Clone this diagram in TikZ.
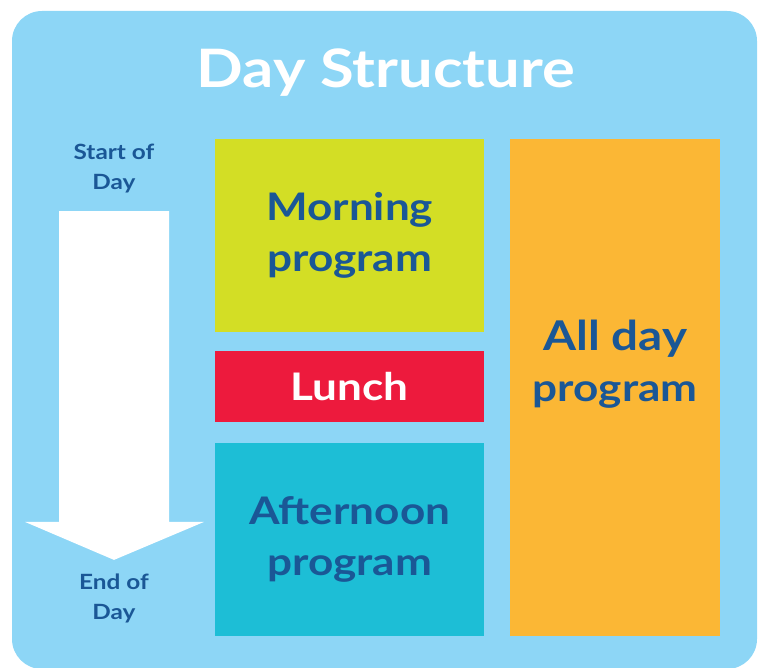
\documentclass[tikz,border=0pt]{standalone}
\usepackage{fontspec}
\setmainfont{Lato}[BoldFeatures={FakeStretch=1.16}]
\usetikzlibrary{calc}
\definecolor{skyback}{HTML}{8DD6F6}
\definecolor{inkblue}{HTML}{1A5796}
\definecolor{morninggreen}{HTML}{D3DE25}
\definecolor{lunchred}{HTML}{ED1A3D}
\definecolor{noonteal}{HTML}{1DBED6}
\definecolor{alldayorange}{HTML}{FBB735}
\newcommand{\drawblock}[7] {
  % name, top-left corner, width, fill, height, text, text shift
  \node[block, fill=#4, minimum width=#3, minimum height=#5] (#1) at #2 {};
  \node[blocktext] (#1-text) at ($(#1.center)+(0,#7)$) {#6};
}

\begin{document}
\begin{tikzpicture}[x=1pt, y=-1pt,
    block/.style={anchor=north west, inner sep=0},
    blocktext/.style={inner sep=0, align=center, text=inkblue,
      font=\bfseries\fontsize{38}{51}\selectfont},
    daylabel/.style={align=center, text=inkblue, font=\bfseries\fontsize{21}{30}\selectfont}]
    \useasboundingbox (0,0) rectangle (760,668);
    \fill[skyback, rounded corners=30] (12,11) rectangle (757,669);
    \node[text=white, font=\bfseries\fontsize{53}{60}\selectfont] (title) at (386,73) {Day Structure};
    \drawblock{morning}{(215,139)}{269}{morninggreen}{193}{Morning\\program}{0}
    \drawblock{lunch}{(215,351)}{269}{lunchred}{71}{\textcolor{white}{Lunch}}{0}
    \drawblock{afternoon}{(215,443)}{269}{noonteal}{193}{Afternoon\\program}{0}
    \drawblock{allday}{(510,139)}{210}{alldayorange}{497}{\fontsize{41}{52}\selectfont All day\\program}{-24}
    \node[daylabel] (start) at (114,169) {Start of\\Day};
    \node[daylabel] (end) at (114,598) {End of\\Day};
    % the time arrow, from start to end
    \coordinate (top) at ($(start.south)+(0,14)$);
    \coordinate (tip) at ($(end.north)+(0,-10)$);
    \fill[white] ($(top)+(-55,0)$) -- ($(top)+(55,0)$) -- ($(tip)+(55,-38)$)
      -- ($(tip)+(90,-38)$) -- (tip) -- ($(tip)+(-89,-38)$) -- ($(tip)+(-55,-38)$) -- cycle;
  \end{tikzpicture}
\end{document}
